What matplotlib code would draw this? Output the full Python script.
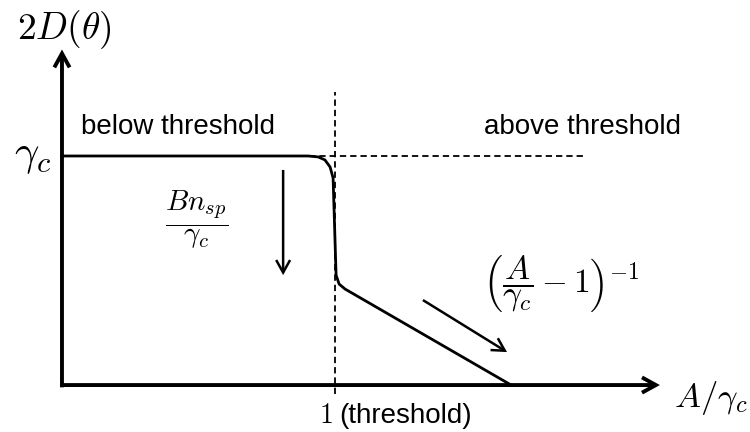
import matplotlib.pyplot as plt
from matplotlib.patches import FancyArrowPatch

plt.rcParams['mathtext.fontset'] = 'cm'
plt.rcParams['font.family'] = ['Liberation Sans', 'DejaVu Sans']

# 2D(theta) vs pump A/gamma_c, y in units of gamma_c
x_curve = [0.0, 0.901, 0.938, 0.963, 0.982, 0.993, 1.004, 1.015, 1.037, 1.645]
y_curve = [1.0, 1.0, 0.996, 0.983, 0.952, 0.904, 0.480, 0.441, 0.419, 0.0]

threshold = 1.0
gamma_level = 1.0

fig = plt.figure(figsize=(7.5, 4.32), dpi=100)
ax = fig.add_axes([0, 0, 1, 1])
ax.set_xlim(-0.227, 2.520)
ax.set_ylim(-0.205, 1.681)
ax.axis('off')

# reference lines
ax.plot([0, 1.908], [gamma_level, gamma_level], ls=(0, (3.5, 2.2)), color='black', lw=1.3)
ax.plot([threshold, threshold], [-0.04, 1.28], ls=(0, (3.5, 2.2)), color='black', lw=1.3)

# curve
ax.plot(x_curve, y_curve, color='black', lw=2.0, solid_joinstyle='round')

def arrow(p0, p1, lw, hl, hw):
    a = FancyArrowPatch(p0, p1, arrowstyle=f'->,head_length={hl},head_width={hw}',
                        color='black', lw=lw, mutation_scale=10, shrinkA=0, shrinkB=0,
                        joinstyle='miter', capstyle='butt')
    ax.add_patch(a)

# axes with arrows
arrow((0, -0.01), (0, 1.465), 2.8, 1.0, 0.55)
arrow((-0.005, 0), (2.19, 0), 2.8, 1.0, 0.55)

# annotation arrows
arrow((0.81, 0.939), (0.81, 0.48), 1.8, 0.9, 0.5)
arrow((1.322, 0.371), (1.63, 0.144), 1.8, 0.9, 0.5)

# labels
ax.text(-0.165, 1.46, r'$2D(\theta)$', fontsize=27, ha='left', va='bottom')
ax.text(-0.04, gamma_level, r'$\gamma_c$', fontsize=31, ha='right', va='center')
ax.text(2.24, -0.055, r'$A/\gamma_c$', fontsize=25, ha='left', va='center')
ax.text(threshold - 0.01, -0.08, r'$1$', fontsize=20, ha='right', va='top')
ax.text(threshold + 0.015, -0.08, '(threshold)', fontsize=20, ha='left', va='top')

ax.text(0.425, 1.125, 'below threshold', fontsize=20, ha='center', va='center')
ax.text(1.905, 1.125, 'above threshold', fontsize=20, ha='center', va='center')

ax.text(0.495, 0.72, r'$\dfrac{Bn_{sp}}{\gamma_c}$', fontsize=21, ha='center', va='center')
ax.text(1.83, 0.44, r'$\left(\dfrac{A}{\gamma_c}-1\right)^{-1}$', fontsize=24,
        ha='center', va='center')

fig.savefig('out.png', dpi=100)
